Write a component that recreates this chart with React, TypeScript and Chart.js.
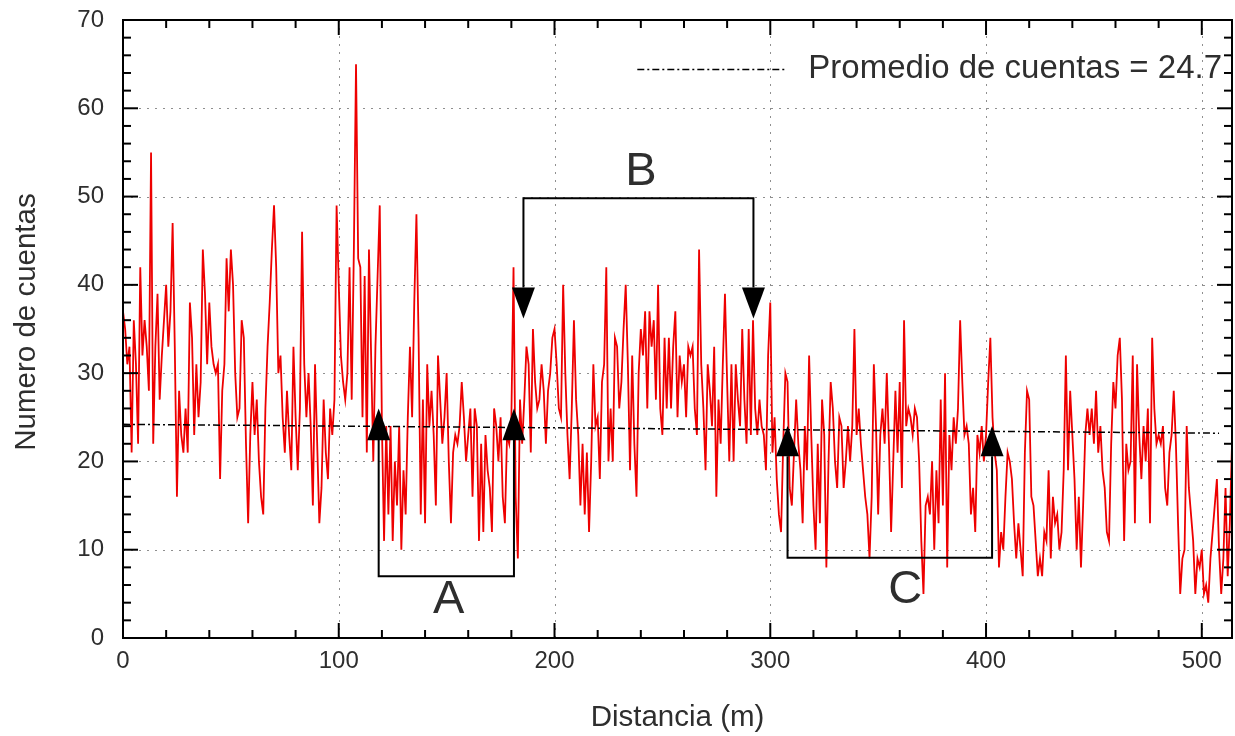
import React, { useEffect, useRef } from "react";
import { Chart, registerables } from "chart.js";

Chart.register(...registerables);

// ---- Data: counts per metre, x = distance index ----
const counts0to50 = [37,35,31,33,21,36,31,22,42,32,36,33,28,55,22,33,39,27,32,36,40,33,37,47,33,16,28,23,21,26,21,38,34,23,31,25,29,44,39,31,38,33,31,30,31,18,28,31,43,37,44];
const counts51to103 = [40,30,25,26,36,34,22,13,23,29,23,27,20,16,14,26,33,38,44,49,42,30,32,25,21,28,23,19,33,25,19,26,46,31,25,30,24,15,31,22,13,17,27,21,18,26,23,27,49,40,32,29,27];
const counts104to155 = [30,42,27,44,65,43,42,25,41,21,44,32,20,33,41,49,24,11,24,14,24,11,20,15,24,10,19,14,25,33,25,38,48,34,14,27,13,31,24,28,23,15,32,27,22,25,30,20,13,21,23,22];
const counts156to207 = [24,29,25,20,23,26,16,26,24,11,22,12,23,19,17,12,26,24,20,25,16,13,23,22,25,42,16,9,27,22,27,33,31,21,35,29,26,27,31,28,22,28,30,34,35,31,26,25,40,30,23,18];
const counts208to259 = [26,36,27,23,15,22,14,21,12,20,31,24,25,18,29,31,42,20,26,20,34,33,26,29,35,40,31,19,32,22,16,30,35,32,37,26,37,33,36,27,40,26,23,34,26,34,26,33,37,25,32,29];
const counts260to311 = [31,25,33,32,33,26,23,44,31,26,19,31,28,24,33,16,27,22,31,39,29,20,31,20,31,27,24,35,27,22,35,23,36,26,23,27,24,23,19,32,38,21,25,18,14,12,22,30,29,17,15,21];
const counts312to363 = [27,22,19,13,24,19,32,23,15,10,22,13,27,23,8,20,29,26,20,17,25,24,17,20,24,20,24,35,23,26,22,19,16,14,9,16,31,24,14,23,26,22,30,22,12,20,28,21,29,17,36,24];
const counts364to415 = [26,25,23,26,25,20,11,5,15,16,14,20,10,19,13,27,15,30,8,23,19,25,22,26,36,29,23,24,22,14,17,12,23,21,24,20,23,29,34,25,21,19,8,12,10,16,21,20,18,13,9,13];
const counts416to466 = [10,7,21,28,27,16,15,11,7,9,7,12,11,19,9,16,13,14,10,12,19,32,19,28,23,18,10,16,8,15,23,26,23,26,22,28,21,24,19,17,12,11,22,29,26,32,34,27,11,22,19];
const counts467to514 = [20,32,13,31,23,18,24,20,26,13,34,26,22,23,22,24,17,15,21,23,28,22,13,5,9,10,24,17,14,11,5,9,8,10,5,6,4,9,12,15,18,10,5,9,17,7,13,22];

const counts = [
  ...counts0to50, ...counts51to103, ...counts104to155, ...counts156to207,
  ...counts208to259, ...counts260to311, ...counts312to363, ...counts364to415,
  ...counts416to466, ...counts467to514,
];

// Average (fit) line end points
const averageX = [0, 508];
const averageY = [24.2, 23.2];
const averageLabel = "Promedio de cuentas = 24.7";

// Axis ticks
const xTickValues = [0, 100, 200, 300, 400, 500];
const yTickValues = [0, 10, 20, 30, 40, 50, 60, 70];
const xMinorStep = 20;
const yMinorStep = 2;
const xTitle = "Distancia (m)";
const yTitle = "Numero de cuentas";

// Annotations (data units)
const bracketA = { x: [118.5, 118.5, 181.2, 181.2], y: [22.5, 7.0, 7.0, 22.5] };
const bracketB = { x: [185.6, 185.6, 292.2, 292.2], y: [39.7, 49.8, 49.8, 39.7] };
const bracketC = { x: [308.0, 308.0, 402.8, 402.8], y: [20.6, 9.1, 9.1, 20.6] };
const triangleX = [118.5, 181.2, 185.6, 292.2, 308.0, 402.8];
const triangleApex = [26.0, 26.0, 36.2, 36.2, 24.0, 24.0];
const triangleBase = [22.4, 22.4, 39.7, 39.7, 20.6, 20.6];
const letterText = ["A", "B", "C"];
const letterX = [151, 240, 362.6];
const letterY = [4.3, 52.8, 5.4];

const FONT = "'Liberation Sans', Arial, Helvetica, sans-serif";
const TEXT = "#2e2e2e";

const decor = {
  id: "decor",
  beforeDatasetsDraw(chart: any) {
    const { ctx, chartArea: a, scales } = chart;
    const xs = scales.x;
    const ys = scales.y;
    ctx.save();
    ctx.strokeStyle = "#8f8f8f";
    ctx.lineWidth = 1;
    ctx.setLineDash([2, 6]);
    for (const v of yTickValues) {
      if (v === 0 || v === 70) continue;
      const py = Math.round(ys.getPixelForValue(v)) + 0.5;
      ctx.beginPath();
      ctx.moveTo(a.left, py);
      ctx.lineTo(a.right, py);
      ctx.stroke();
    }
    for (const v of xTickValues) {
      if (v === 0) continue;
      const px = Math.round(xs.getPixelForValue(v)) + 0.5;
      ctx.beginPath();
      ctx.moveTo(px, a.top);
      ctx.lineTo(px, a.bottom);
      ctx.stroke();
    }
    ctx.restore();
  },
  afterDatasetsDraw(chart: any) {
    const { ctx, chartArea: a, scales } = chart;
    const xs = scales.x;
    const ys = scales.y;
    ctx.save();
    ctx.setLineDash([]);
    ctx.strokeStyle = "#000";
    const seg = (x1: number, y1: number, x2: number, y2: number) => {
      ctx.beginPath();
      ctx.moveTo(x1, y1);
      ctx.lineTo(x2, y2);
      ctx.stroke();
    };
    // ticks (inward, all four sides)
    ctx.lineWidth = 2;
    for (let v = 0; v <= ys.max + 1e-9; v += yMinorStep) {
      const py = ys.getPixelForValue(v);
      const len = v % 10 === 0 ? 15 : 8;
      seg(a.left, py, a.left + len, py);
      seg(a.right - len, py, a.right, py);
    }
    for (let v = 0; v <= xs.max + 1e-9; v += xMinorStep) {
      const px = xs.getPixelForValue(v);
      const len = v % 100 === 0 ? 15 : 8;
      seg(px, a.bottom, px, a.bottom - len);
      seg(px, a.top, px, a.top + len);
    }
    // border
    ctx.lineWidth = 2;
    ctx.strokeRect(a.left, a.top, a.right - a.left, a.bottom - a.top);

    // brackets
    ctx.lineWidth = 2;
    for (const b of [bracketA, bracketB, bracketC]) {
      ctx.beginPath();
      b.x.forEach((vx: number, i: number) => {
        const px = xs.getPixelForValue(vx);
        const py = ys.getPixelForValue(b.y[i]);
        if (i === 0) ctx.moveTo(px, py);
        else ctx.lineTo(px, py);
      });
      ctx.stroke();
    }
    // triangles
    ctx.fillStyle = "#000";
    triangleX.forEach((vx, i) => {
      const px = xs.getPixelForValue(vx);
      const pa = ys.getPixelForValue(triangleApex[i]);
      const pb = ys.getPixelForValue(triangleBase[i]);
      ctx.beginPath();
      ctx.moveTo(px, pa);
      ctx.lineTo(px - 11.5, pb);
      ctx.lineTo(px + 11.5, pb);
      ctx.closePath();
      ctx.fill();
    });
    // letters
    ctx.fillStyle = TEXT;
    ctx.font = `47px ${FONT}`;
    ctx.textAlign = "center";
    ctx.textBaseline = "middle";
    letterText.forEach((t, i) => {
      ctx.fillText(t, xs.getPixelForValue(letterX[i]), ys.getPixelForValue(letterY[i]));
    });
    // y-axis title
    ctx.save();
    ctx.font = `29.5px ${FONT}`;
    ctx.translate(27, (a.top + a.bottom) / 2 - 7);
    ctx.rotate(-Math.PI / 2);
    ctx.fillText(yTitle, 0, 0);
    ctx.restore();
    // legend
    ctx.font = `33px ${FONT}`;
    ctx.textAlign = "right";
    ctx.textBaseline = "middle";
    const ly = a.top + 49;
    const tx = a.right - 10;
    ctx.fillText(averageLabel, tx, ly);
    const tw = ctx.measureText(averageLabel).width;
    const x2 = tx - tw - 22;
    ctx.strokeStyle = "#000";
    ctx.lineWidth = 1.5;
    ctx.setLineDash([7, 3, 2, 3]);
    seg(x2 - 149, ly + 0.5, x2, ly + 0.5);
    ctx.restore();
  },
};

export default function App() {
  const ref = useRef<HTMLCanvasElement>(null);
  useEffect(() => {
    if (!ref.current) return;
    const chart = new Chart(ref.current, {
      type: "line",
      data: {
        datasets: [
          {
            label: averageLabel,
            data: averageX.map((v, i) => ({ x: v, y: averageY[i] })),
            borderColor: "#000000",
            borderWidth: 1.5,
            borderDash: [7, 3, 2, 3],
            pointRadius: 0,
            fill: false,
          },
          {
            label: "Cuentas",
            data: counts.map((c, i) => ({ x: i, y: c })),
            borderColor: "#ee0000",
            borderWidth: 1.8,
            pointRadius: 0,
            fill: false,
            tension: 0,
          },
        ],
      },
      options: {
        animation: false,
        responsive: false,
        layout: { padding: { left: 0, top: 20, right: 3, bottom: 0 } },
        plugins: { legend: { display: false }, tooltip: { enabled: false } },
        scales: {
          x: {
            type: "linear",
            min: 0,
            max: 514,
            grid: { display: false, drawTicks: false },
            border: { display: false },
            afterBuildTicks: (s: any) => {
              s.ticks = xTickValues.map((v) => ({ value: v }));
            },
            afterFit: (s: any) => {
              s.height = 98;
              s.paddingLeft = 0;
              s.paddingRight = 0;
            },
            ticks: {
              font: { family: FONT, size: 24 },
              color: TEXT,
              padding: 9,
              maxRotation: 0,
              autoSkip: false,
            },
            title: {
              display: true,
              text: xTitle,
              font: { family: FONT, size: 29.5 },
              color: TEXT,
              padding: { top: 0, bottom: 0 },
            },
          },
          y: {
            type: "linear",
            min: 0,
            max: 70,
            grid: { display: false, drawTicks: false },
            border: { display: false },
            afterBuildTicks: (s: any) => {
              s.ticks = yTickValues.map((v) => ({ value: v }));
            },
            afterFit: (s: any) => {
              s.width = 123;
              s.paddingTop = 0;
              s.paddingBottom = 0;
            },
            ticks: {
              font: { family: FONT, size: 24 },
              color: TEXT,
              padding: 19,
            },
            title: { display: false },
          },
        },
      },
      plugins: [decor],
    });
    return () => chart.destroy();
  }, []);
  return (
    <canvas
      ref={ref}
      width={1235}
      height={736}
      style={{ position: "fixed", left: 0, top: 0, display: "block" }}
    />
  );
}
